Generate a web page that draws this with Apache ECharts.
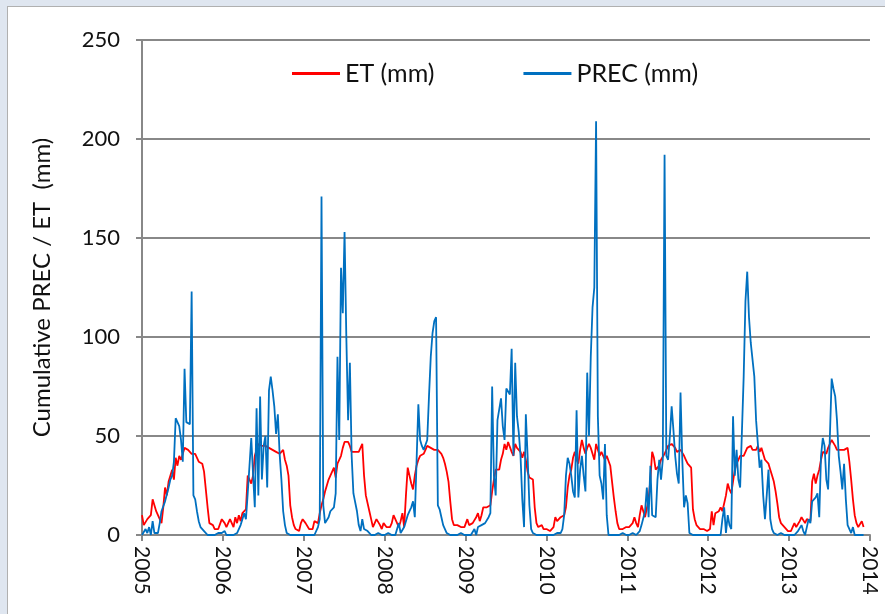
<!DOCTYPE html>
<html><head><meta charset="utf-8">
<script src="https://cdn.jsdelivr.net/npm/echarts@6/dist/echarts.min.js"></script>
<style>
html,body{margin:0;padding:0;background:#dfe6f0;width:885px;height:614px;overflow:hidden;}
#panel{position:absolute;left:7px;top:6px;width:880px;height:610px;background:#fff;border:1px solid #b0b0b0;box-sizing:border-box;}
#chart{position:absolute;left:0;top:0;width:885px;height:614px;}
</style></head><body><div id="panel"></div><div id="chart"></div>
<script>
// 8-day composites, 46 per year (2013 ends early)
const years = [2005, 2006, 2007, 2008, 2009, 2010, 2011, 2012, 2013];
const seriesNames = ['ET (mm)', 'PREC (mm)'];
const yAxisTitle = 'Cumulative PREC / ET  (mm)';

const et2005 = [10,5,6,8,9,10,18,15,12,10,9,6,14,24,20,27,26,33,28,39,35,40,38,41,44,44,43,42,41,41,41,40,37,36,36,32,32,14,6,6,5,3,3,3,3,8];
const et2006 = [8,6,4,6,8,9,4,9,6,10,7,11,11,13,30,28,26,30,40,43,46,47,45,45,45,46,44,44,43,43,42,42,41,42,43,38,35,30,15,9,5,3,3,2,6,8];
const et2007 = [8,6,5,3,3,3,7,6,6,11,15,18,22,25,28,30,32,34,29,36,38,40,44,47,47,47,45,42,42,42,42,42,42,46,30,20,19,12,8,4,6,8,9,5,3,6];
const et2008 = [7,4,3,4,6,10,9,6,4,7,11,4,20,34,30,26,23,30,35,38,40,41,41,43,45,46,44,43,43,43,43,42,41,39,36,32,27,17,8,5,5,5,4,4,3,4];
const et2009 = [4,8,5,5,6,7,9,11,7,10,14,14,14,14,15,22,28,33,34,33,38,41,46,43,47,48,42,40,46,44,45,42,39,42,38,32,29,28,28,14,6,4,3,5,3,2];
const et2010 = [3,2,2,2,4,9,7,7,9,9,10,14,24,30,33,39,42,38,36,43,48,44,41,44,46,44,41,38,46,43,40,42,40,38,40,40,35,27,19,12,6,3,4,3,4,4];
const et2011 = [5,4,3,6,9,6,4,10,15,12,9,8,18,28,42,39,33,32,35,38,38,41,43,45,45,46,47,44,42,43,43,42,40,38,36,35,34,13,8,5,4,3,3,3,2,2];
const et2012 = [2,3,12,5,11,12,12,14,12,13,20,26,23,21,21,33,36,38,40,40,40,42,44,45,45,43,42,43,45,42,44,45,38,37,36,33,30,27,22,16,9,6,5,4,3,2];
const et2013 = [2,2,4,6,4,3,7,9,8,6,8,8,7,27,31,26,30,33,38,42,42,41,44,46,48,47,45,43,43,43,42,43,44,44,37,28,18,10,6,4,5,7,4];

const prec2005 = [0,1,3,1,4,0,7,1,1,1,6,12,12,17,16,24,28,30,37,59,57,55,48,37,84,57,56,56,123,20,18,12,7,4,3,2,1,0,0,0,0,0,1,1,1,1];
const prec2006 = [0,2,0,0,0,0,0,0,1,2,5,8,11,8,21,35,49,31,14,64,20,70,28,45,50,24,73,80,73,65,51,61,41,28,12,5,1,0,0,0,0,1,0,1,0,0];
const prec2007 = [0,0,0,0,0,0,0,1,4,8,171,15,6,7,9,12,11,14,21,90,48,135,112,153,100,58,87,40,21,20,12,5,2,8,3,4,2,1,0,0,0,0,1,1,0,0];
const prec2008 = [0,0,1,0,0,0,0,0,6,1,1,4,7,10,12,14,17,9,9,66,48,45,43,44,48,70,90,102,108,110,15,13,9,5,3,1,0,0,0,0,0,0,0,1,0,0];
const prec2009 = [0,0,1,0,0,3,0,4,5,5,6,6,7,9,11,75,30,20,58,57,69,55,48,74,73,71,94,40,87,60,52,40,18,4,61,40,15,3,1,0,0,0,0,0,0,0];
const prec2010 = [0,0,0,1,0,0,1,0,1,3,10,30,39,36,30,22,19,63,19,33,40,30,22,82,50,90,115,125,209,60,30,26,18,46,10,0,0,0,0,0,0,0,0,1,1,0];
const prec2011 = [0,0,0,1,0,0,0,2,5,4,12,24,9,35,10,9,9,28,38,28,38,192,40,38,50,65,53,40,31,26,72,38,14,20,16,1,0,0,0,0,0,0,0,0,0,0];
const prec2012 = [0,0,0,0,0,0,1,0,8,14,1,10,5,3,60,30,43,28,24,23,80,118,133,110,97,97,80,58,57,34,38,20,8,20,33,8,3,1,0,0,0,1,0,0,0,0];
const prec2013 = [0,0,0,0,0,2,2,5,2,0,4,8,6,17,18,19,21,9,40,49,45,28,23,50,79,74,70,58,40,32,23,36,18,5,4,1,4,0,0,0,0,0,0];

const etYears = [et2005, et2006, et2007, et2008, et2009, et2010, et2011, et2012, et2013];
const precYears = [prec2005, prec2006, prec2007, prec2008, prec2009, prec2010, prec2011, prec2012, prec2013];

function build(arrs) {
  const out = [];
  arrs.forEach((a, i) => a.forEach((v, k) => out.push([years[i] + k * 8 / 365, v])));
  return out;
}

const FONT = 'Lato, "Open Sans", sans-serif';
const GRAY = '#888888';
const chart = echarts.init(document.getElementById('chart'), null, {renderer: 'canvas'});
chart.setOption({
  backgroundColor: 'transparent',
  animation: false,
  textStyle: {fontFamily: FONT},
  grid: {left: 142, right: 15, top: 40, bottom: 79},
  legend: {
    data: seriesNames,
    left: 287, top: 56,
    icon: 'rect', itemWidth: 48, itemHeight: 3, itemGap: 89,
    textStyle: {fontSize: 25, color: '#111', fontFamily: FONT}
  },
  xAxis: {
    type: 'value', min: 2005, max: 2014, interval: 1,
    axisLine: {show: true, lineStyle: {color: GRAY, width: 2}},
    axisTick: {show: true, length: 6, lineStyle: {color: GRAY, width: 2}},
    splitLine: {show: false},
    axisLabel: {rotate: -90, margin: 11, fontSize: 21, color: '#111', fontFamily: FONT, formatter: v => String(v)}
  },
  yAxis: {
    type: 'value', min: 0, max: 250, interval: 50,
    name: yAxisTitle, nameLocation: 'middle', nameGap: 88,
    nameTextStyle: {fontSize: 24, color: '#111', fontFamily: FONT},
    axisLine: {show: true, lineStyle: {color: GRAY, width: 2}},
    axisTick: {show: true, length: 6, lineStyle: {color: GRAY, width: 2}},
    splitLine: {show: true, lineStyle: {color: GRAY, width: 2}},
    axisLabel: {fontSize: 22, margin: 22, color: '#111', fontFamily: FONT}
  },
  series: [
    {name: seriesNames[0], type: 'line', data: build(etYears), showSymbol: false, symbol: 'none',
     lineStyle: {color: '#ff0000', width: 1.8}, itemStyle: {color: '#ff0000'}},
    {name: seriesNames[1], type: 'line', data: build(precYears), showSymbol: false, symbol: 'none',
     lineStyle: {color: '#0070c0', width: 1.8}, itemStyle: {color: '#0070c0'}}
  ]
});
</script></body></html>
